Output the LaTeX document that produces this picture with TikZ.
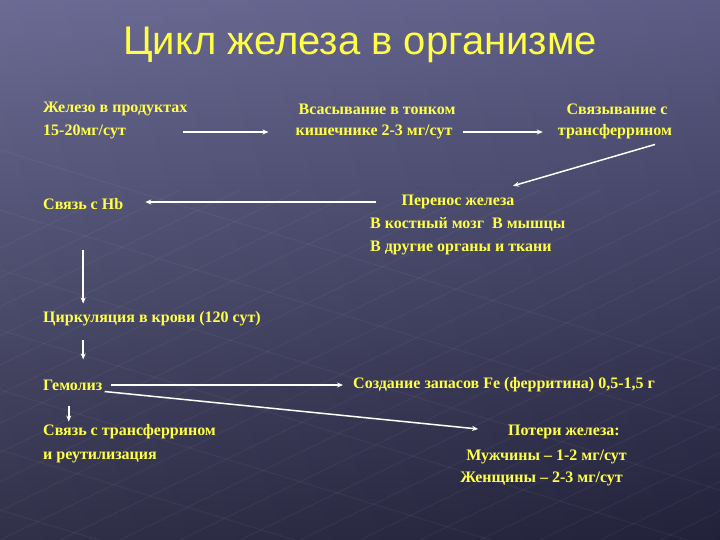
\documentclass[tikz,border=0pt]{standalone}
\usepackage{fontspec}
\setmainfont{Liberation Serif}
\newfontfamily\titlefont{Liberation Sans}
\usetikzlibrary{arrows.meta}

\definecolor{slidetop}{RGB}{98,98,142}
\definecolor{slidebot}{RGB}{36,36,62}
\definecolor{txtyellow}{RGB}{255,255,70}

\tikzset{
    lbl/.style={text=txtyellow, font=\bfseries\fontsize{16}{19}\selectfont, inner sep=0pt, anchor=west},
    heading/.style={text=txtyellow, font=\titlefont\fontsize{40}{46}\selectfont, inner sep=0pt},
    arr/.style={white, line width=1.5pt, -{Stealth[length=6pt,width=5pt]}},
    gridline/.style={white, opacity=0.04, line width=1.2pt},
}

\begin{document}
\begin{tikzpicture}[x=1pt, y=-1pt]

    % slide background
    \shade[top color=slidetop, bottom color=slidebot] (0,0) rectangle (720,540);
    \shade[left color=white, right color=black, opacity=0.06] (0,0) rectangle (720,540);
    \begin{scope}
        \clip (0,120) rectangle (720,540);
        \foreach \c in {-600,-540,...,900}
            \draw[gridline] (\c,540) -- ++(720,-350);
        \foreach \c in {150,210,...,600}
            \draw[gridline] (0,\c) -- ++(720,220);
    \end{scope}
    \useasboundingbox (0,0) rectangle (720,540);

    \node[heading] (title) at (360,45) {Цикл железа в организме};

    % top row
    \node[lbl] (food) at (43,109) {Железо в продуктах};
    \node[lbl] (foodamt) at (43,132) {15-20мг/сут};
    \node[lbl, anchor=center] (absorb) at (377,109) {Всасывание в тонком};
    \node[lbl, anchor=center] (absorbamt) at (374,132) {кишечнике 2-3 мг/сут};
    \node[lbl, anchor=center] (bind) at (617,109) {Связывание с};
    \node[lbl, anchor=center] (bindtf) at (615,132) {трансферрином};

    % transport
    \node[lbl, anchor=center] (transfer) at (458,202) {Перенос железа};
    \node[lbl] (marrow) at (370,224) {В костный мозг\ \ В мышцы};
    \node[lbl] (organs) at (370,248) {В другие органы и ткани};
    \node[lbl] (hb) at (43,204) {Связь с Hb};

    % left column
    \node[lbl] (circ) at (43,319) {Циркуляция в крови (120 сут)};
    \node[lbl] (hemolysis) at (43,385) {Гемолиз};
    \node[lbl] (store) at (353,385) {Создание запасов Fe (ферритина) 0,5-1,5 г};
    \node[lbl] (reuse) at (43,432) {Связь с трансферрином};
    \node[lbl] (reuse2) at (43,457) {и реутилизация};

    % losses
    \node[lbl, anchor=east] (loss) at (620,432) {Потери железа:};
    \node[lbl, anchor=east] (men) at (627,457) {Мужчины – 1-2 мг/сут};
    \node[lbl, anchor=east] (women) at (623,479) {Женщины – 2-3 мг/сут};

    \draw[arr, shorten <=57pt, shorten >=27pt] (foodamt.east) -- (foodamt.east -| absorbamt.west);
    \draw[arr, shorten <=10pt, shorten >=15pt] (absorbamt.east) -- (bindtf.west);
    \draw[arr] ([xshift=40pt,yshift=-5pt]bindtf.south) -- ([xshift=55pt,yshift=9pt]transfer.north);
    \draw[arr, shorten <=25pt, shorten >=22pt] (transfer.west) -- (transfer.west -| hb.east);
    \draw[arr, shorten <=40pt, shorten >=8pt] (hb.south) -- (hb.south |- circ.north);
    \draw[arr, shorten <=14pt, shorten >=20pt] (hb.south |- circ.south) -- (hb.south |- hemolysis.north);
    \draw[arr, shorten <=8pt, shorten >=10pt] (hemolysis.east) -- (store.west);
    \draw[arr, shorten >=30pt] ([xshift=2pt,yshift=-1pt]hemolysis.south east) -- (loss.west);
    \draw[arr, shorten <=15pt, shorten >=3pt] ([xshift=-4pt]hemolysis.south) -- ([xshift=-4pt]hemolysis.south |- reuse.north);

\end{tikzpicture}
\end{document}
